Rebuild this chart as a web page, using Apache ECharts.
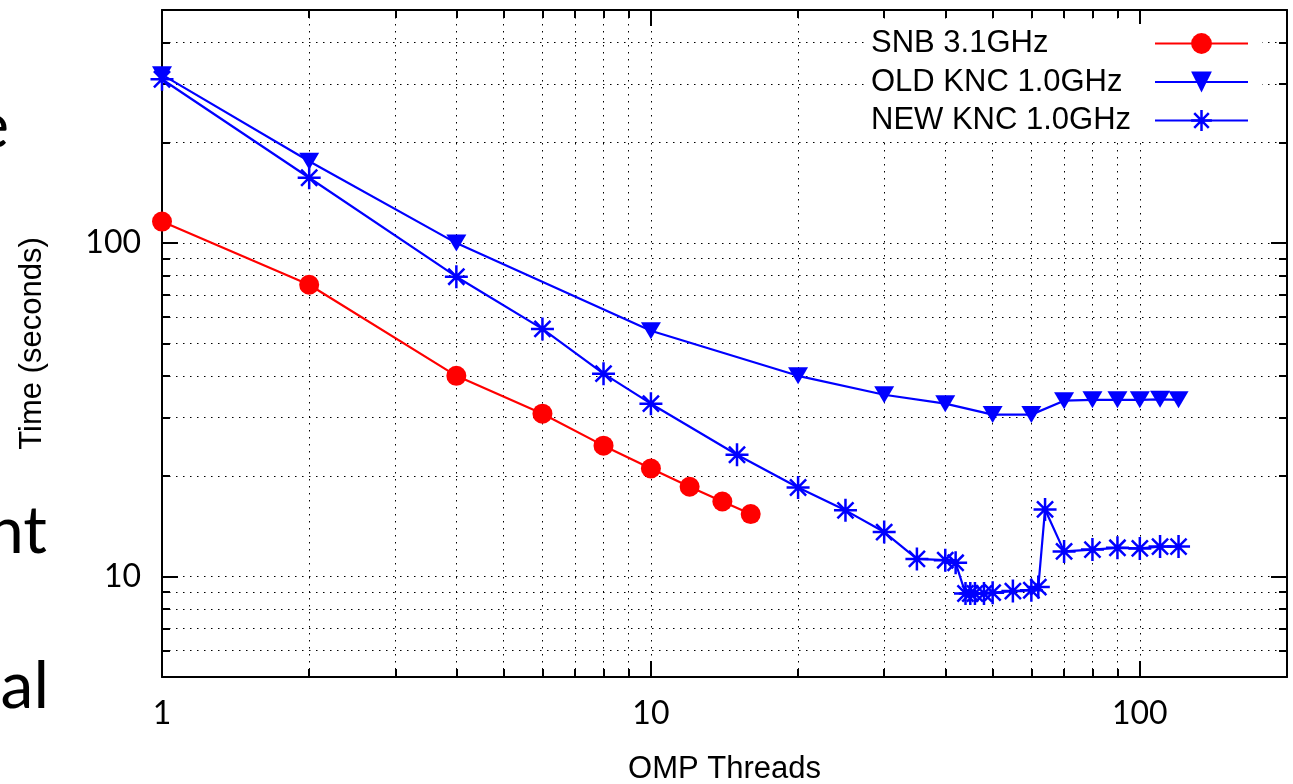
<!DOCTYPE html>
<html>
<head>
<meta charset="utf-8">
<script src="https://cdn.jsdelivr.net/npm/echarts@6/dist/echarts.min.js"></script>
<style>
html,body{margin:0;padding:0;background:#fff;overflow:hidden}
#c{width:1293px;height:784px}
</style>
</head>
<body>
<div id="c"></div>
<script>
// ---- data ----
const seriesNames = ['SNB 3.1GHz', 'OLD KNC 1.0GHz', 'NEW KNC 1.0GHz'];

const snbThreads = [1, 2, 4, 6, 8, 10, 12, 14, 16];
const snbTime    = [116, 75, 40, 30.8, 24.7, 21.1, 18.6, 16.8, 15.4];

const oldThreads = [1, 2, 4, 10, 20, 30, 40, 50, 60, 70, 80, 90, 100, 110, 120];
const oldTime    = [320, 176, 100, 54.6, 40, 35.1, 33, 30.6, 30.6, 33.7, 33.9, 33.9, 33.9, 34, 33.9];

const newThreads = [1, 2, 4, 6, 8, 10, 15, 20, 25, 30, 35, 40, 42, 44, 45, 46, 48, 50, 55, 60, 62, 64, 70, 80, 90, 100, 110, 120];
const newTime    = [310, 157, 79.3, 55.3, 40.6, 33.0, 23.2, 18.5, 15.8, 13.6, 11.3, 11.2, 11.0, 8.9, 8.9, 8.9, 8.9, 8.95, 9.05, 9.1, 9.3, 15.9, 11.9, 12.05, 12.2, 12.15, 12.3, 12.3];

const xLabelValues = [1, 10, 100];
const xGridValues  = [2, 3, 4, 5, 6, 7, 8, 9, 10, 20, 30, 40, 50, 60, 70, 80, 90, 100];
const yLabelValues = [10, 100];
const yGridValues  = [6, 7, 8, 9, 10, 20, 30, 40, 50, 60, 70, 80, 90, 100, 200, 300, 400];

const xName = 'OMP Threads';
const yName = 'Time (seconds)';
const slideFragments = ['e', 'nt', 'al'];

// ---- chart ----
const pairs = (xs, ys) => xs.map((x, i) => [x, ys[i]]);
const black = '#000';
const tickLine = { color: black, width: 2 };
const dotted = { color: black, width: 1, type: [1.5, 5.5] };
const logX = { type: 'log', logBase: 10, min: 1, max: 200, gridIndex: 0 };
const logY = { type: 'log', logBase: 10, min: 5, max: 500, gridIndex: 0 };
const tickFont = { fontFamily: 'Lato', fontSize: 32, color: black };
const textFont = { fontFamily: 'Liberation Sans', fontSize: 31, color: black };

const trianglePath = 'path://M0,0L20,0L10,17Z';
const starPath = 'path://M10,0L10,20M0,10L20,10M3,3L17,17M3,17L17,3';

function mirrorAxis(base, position, values, len, showLine) {
  return Object.assign({}, base, {
    position: position,
    axisLine: { show: showLine, onZero: false, lineStyle: tickLine },
    axisTick: { show: true, inside: true, length: len, lineStyle: tickLine, customValues: values },
    axisLabel: { show: false },
    splitLine: { show: false },
    minorTick: { show: false },
    minorSplitLine: { show: false }
  });
}

const option = {
  animation: false,
  textStyle: { fontFamily: 'Liberation Sans' },
  grid: { left: 162, right: 6, top: 10, bottom: 107, containLabel: false, outerBoundsMode: 'none' },
  legend: {
    data: [
      { name: seriesNames[0] },
      { name: seriesNames[1] },
      { name: seriesNames[2], itemStyle: { borderWidth: 2.5 } }
    ],
    orient: 'vertical',
    align: 'right',
    right: 31,
    top: 24,
    itemWidth: 93,
    itemHeight: 26,
    itemGap: 7.5,
    padding: [4, 13, 4, 6],
    backgroundColor: '#fff',
    selectedMode: false,
    formatter: n => '{t|' + n + '}',
    textStyle: Object.assign({}, textFont, {
      rich: { t: Object.assign({ width: 279, align: 'left', lineHeight: 30 }, textFont) }
    })
  },
  xAxis: [
    Object.assign({}, logX, {
      position: 'bottom',
      name: xName, nameLocation: 'middle', nameGap: 77, nameTextStyle: textFont,
      axisLine: { show: true, onZero: false, lineStyle: tickLine },
      axisTick: { show: true, inside: true, length: 8, lineStyle: tickLine, customValues: xGridValues },
      axisLabel: Object.assign({ show: true, customValues: xLabelValues, margin: 21 }, tickFont),
      splitLine: { show: true, lineStyle: dotted },
      minorTick: { show: false }, minorSplitLine: { show: false }
    }),
    mirrorAxis(logX, 'bottom', xLabelValues, 16, false),
    mirrorAxis(logX, 'top', xGridValues, 8, true),
    mirrorAxis(logX, 'top', xLabelValues, 16, false)
  ],
  yAxis: [
    Object.assign({}, logY, {
      position: 'left',
      name: yName, nameLocation: 'middle', nameGap: 114, nameTextStyle: textFont,
      axisLine: { show: true, onZero: false, lineStyle: tickLine },
      axisTick: { show: true, inside: true, length: 8, lineStyle: tickLine, customValues: yGridValues },
      axisLabel: Object.assign({ show: true, customValues: yLabelValues, margin: 21 }, tickFont),
      splitLine: { show: true, lineStyle: dotted },
      minorTick: { show: false }, minorSplitLine: { show: false }
    }),
    mirrorAxis(logY, 'left', yLabelValues, 16, false),
    mirrorAxis(logY, 'right', yGridValues, 8, true),
    mirrorAxis(logY, 'right', yLabelValues, 16, false)
  ],
  series: [
    {
      name: seriesNames[0], type: 'line', xAxisIndex: 0, yAxisIndex: 0,
      data: pairs(snbThreads, snbTime),
      symbol: 'circle', symbolSize: 20,
      lineStyle: { color: '#ff0000', width: 2.2 },
      itemStyle: { color: '#ff0000', borderWidth: 0 },
      z: 3
    },
    {
      name: seriesNames[1], type: 'line', xAxisIndex: 0, yAxisIndex: 0,
      data: pairs(oldThreads, oldTime),
      symbol: trianglePath, symbolSize: [20, 17],
      lineStyle: { color: '#0000ff', width: 2.2 },
      itemStyle: { color: '#0000ff', borderWidth: 0 },
      z: 3
    },
    {
      name: seriesNames[2], type: 'line', xAxisIndex: 0, yAxisIndex: 0,
      data: pairs(newThreads, newTime),
      symbol: starPath, symbolSize: 23,
      lineStyle: { color: '#0000ff', width: 2.2 },
      itemStyle: { color: '#0000ff', borderColor: '#0000ff', borderWidth: 2.5 },
      z: 3
    }
  ],
  graphic: [
    { type: 'text', x: 9, y: 160, style: { text: slideFragments[0], font: '66px Lato', fill: '#000', textAlign: 'right', textVerticalAlign: 'bottom' } },
    { type: 'text', x: 47, y: 565, style: { text: slideFragments[1], font: '66px Lato', fill: '#000', textAlign: 'right', textVerticalAlign: 'bottom' } },
    { type: 'text', x: 49, y: 720, style: { text: slideFragments[2], font: '66px Lato', fill: '#000', textAlign: 'right', textVerticalAlign: 'bottom' } }
  ]
};

const chart = echarts.init(document.getElementById('c'), null, { renderer: 'canvas' });
chart.setOption(option);
</script>
</body>
</html>
